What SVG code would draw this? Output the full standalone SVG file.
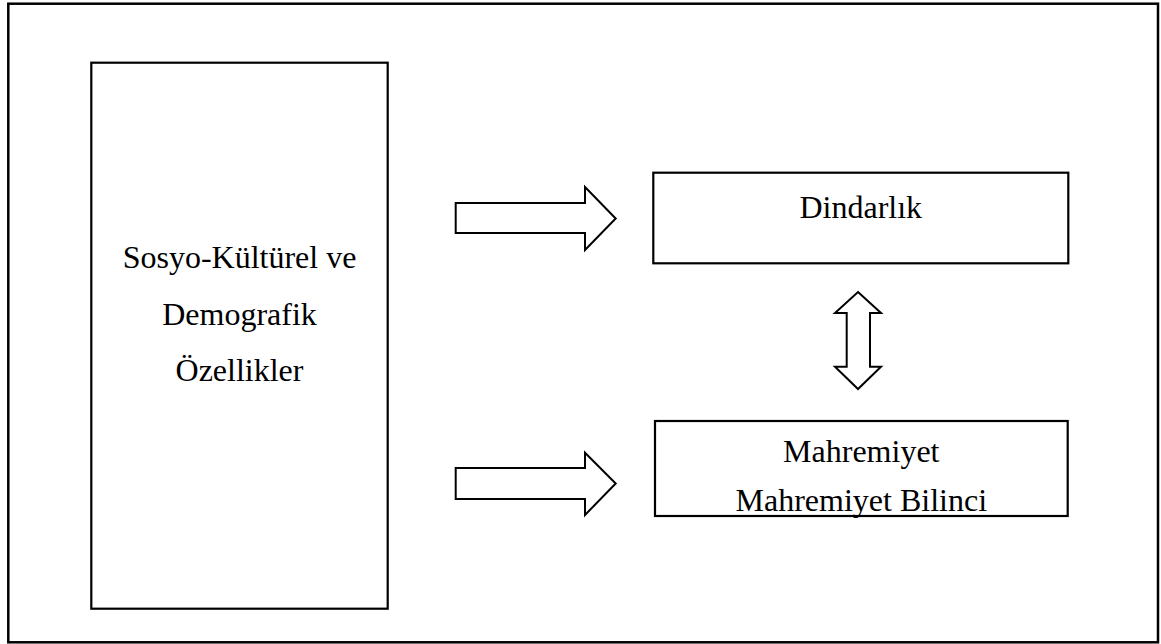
<svg xmlns="http://www.w3.org/2000/svg" width="1161" height="644" viewBox="0 0 1161 644">
<style>
.box{fill:#fff;stroke:#000;stroke-width:2.2}
.arr{fill:#fff;stroke:#000;stroke-width:2;stroke-linejoin:miter}
.t{font-family:"Liberation Serif","Times New Roman",serif;font-size:32px;fill:#000;text-anchor:middle}
</style>
<rect x="0" y="0" width="1161" height="644" fill="#fff"/>
<rect id="frame" x="8.3" y="3.7" width="1149.7" height="638.6" fill="none" stroke="#000" stroke-width="2.5"/>
<g id="node-sosyo">
<rect class="box" x="91.3" y="62.7" width="296.4" height="546"/>
<text class="t" x="239.5" y="268">Sosyo-Kültürel ve</text>
<text class="t" x="239.5" y="325">Demografik</text>
<text class="t" x="239.5" y="380.5">Özellikler</text>
</g>
<g id="node-dindarlik">
<rect class="box" x="653.3" y="172.7" width="415" height="90.6"/>
<text class="t" x="860.8" y="218">Dindarlık</text>
</g>
<g id="node-mahremiyet">
<rect class="box" x="655" y="421" width="412.7" height="95"/>
<text class="t" x="861.3" y="462">Mahremiyet</text>
<text class="t" x="861.3" y="510.5">Mahremiyet Bilinci</text>
</g>
<g id="connectors">
<polygon class="arr" points="455.7,203 585,203 585,187 615.7,218.5 585,250 585,233 455.7,233"/>
<polygon class="arr" points="455.7,468 585,468 585,452.7 615.7,483.5 585,515 585,499 455.7,499"/>
<polygon class="arr" points="858,292 881,313 870,313 870,366.7 881,366.7 858,389 835,366.7 846.7,366.7 846.7,313 835,313"/>
</g>
</svg>
